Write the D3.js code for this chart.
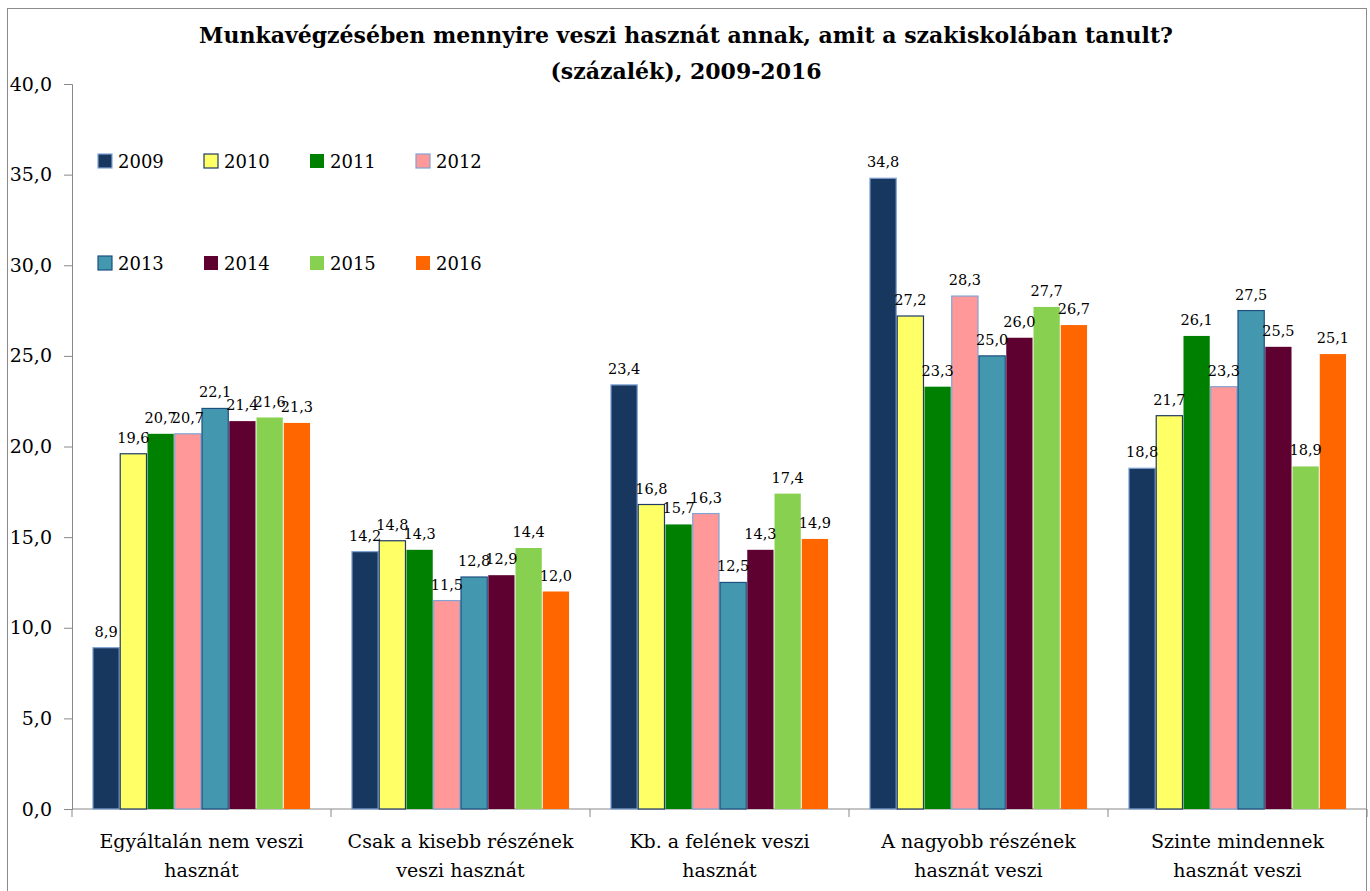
<!DOCTYPE html>
<html>
<head>
<meta charset="utf-8">
<script src="https://cdn.jsdelivr.net/npm/d3@7"></script>
<style>
  body { margin: 0; background: #fff; }
</style>
</head>
<body>
<div id="chart"></div>
<script>
const width = 1370;
const height = 891;
const serif = "'DejaVu Serif', 'Liberation Serif', serif";

// Data
const categories = [
    ["Egyáltalán nem veszi", "hasznát"],
    ["Csak a kisebb részének", "veszi hasznát"],
    ["Kb. a felének veszi", "hasznát"],
    ["A nagyobb részének", "hasznát veszi"],
    ["Szinte mindennek", "hasznát veszi"]
];
const years = ["2009", "2010", "2011", "2012", "2013", "2014", "2015", "2016"];
const values = [
    [8.9, 19.6, 20.7, 20.7, 22.1, 21.4, 21.6, 21.3],
    [14.2, 14.8, 14.3, 11.5, 12.8, 12.9, 14.4, 12.0],
    [23.4, 16.8, 15.7, 16.3, 12.5, 14.3, 17.4, 14.9],
    [34.8, 27.2, 23.3, 28.3, 25.0, 26.0, 27.7, 26.7],
    [18.8, 21.7, 26.1, 23.3, 27.5, 25.5, 18.9, 25.1]
];
const yTicks = [0, 5, 10, 15, 20, 25, 30, 35, 40];
const colors = ["#17375E", "#FFFF66", "#008000", "#FF9999", "#4398B0", "#5E0030", "#88D050", "#FF6600"];
const strokes = ["#7FA3D4", "#1F3A66", "none", "#7FA3D4", "#1F4F80", "none", "none", "none"];

const margin = { left: 72, right: 3, top: 84, bottom: 82 };
const fmt = v => v.toFixed(1).replace(".", ",");

const svg = d3.select("#chart").append("svg")
    .attr("width", width)
    .attr("height", height)
    .style("font-family", serif);

// Outer frame
svg.append("rect")
    .attr("x", 7.5).attr("y", 8.5)
    .attr("width", 1359).attr("height", 900)
    .attr("fill", "none")
    .attr("stroke", "#8c8c8c");

// Title
const title = svg.append("text")
    .attr("text-anchor", "middle")
    .style("font-family", serif)
    .style("font-weight", "bold")
    .style("font-size", "22px");
title.append("tspan").attr("x", 686).attr("y", 43)
    .text("Munkavégzésében mennyire veszi hasznát annak, amit a szakiskolában tanult?");
title.append("tspan").attr("x", 686).attr("y", 79)
    .text("(százalék), 2009-2016");

// Scales
const x0 = d3.scaleBand()
    .domain(d3.range(categories.length))
    .range([margin.left, width - margin.right]);

const gap = x0.bandwidth() * 0.079;
const x1 = d3.scaleBand()
    .domain(years)
    .range([gap, x0.bandwidth() - gap]);

const y = d3.scaleLinear()
    .domain([0, 40])
    .range([height - margin.bottom, margin.top]);

// Y axis
const yAxis = svg.append("g")
    .attr("transform", `translate(${margin.left},0)`)
    .call(d3.axisLeft(y).tickValues(yTicks).tickFormat(fmt).tickSize(8).tickPadding(12));
yAxis.select(".domain").attr("stroke", "#888");
yAxis.selectAll(".tick line").attr("stroke", "#888");
yAxis.selectAll(".tick text")
    .style("font-family", serif)
    .style("font-size", "19px");

// X axis
const xAxis = svg.append("g")
    .attr("transform", `translate(0,${y(0)})`);
xAxis.append("line")
    .attr("x1", margin.left).attr("x2", width - margin.right)
    .attr("stroke", "#888");
xAxis.selectAll(".xt")
    .data(d3.range(categories.length + 1))
    .enter().append("line")
    .attr("x1", i => i < categories.length ? x0(i) : x0(i - 1) + x0.bandwidth())
    .attr("x2", i => i < categories.length ? x0(i) : x0(i - 1) + x0.bandwidth())
    .attr("y2", 8)
    .attr("stroke", "#888");

xAxis.selectAll(".catlabel")
    .data(categories)
    .enter().append("text")
    .attr("text-anchor", "middle")
    .style("font-family", serif)
    .style("font-size", "19px")
    .each(function(d, i) {
        const t = d3.select(this);
        d.forEach((line, j) => {
            t.append("tspan")
                .attr("x", x0(i) + x0.bandwidth() / 2)
                .attr("y", 39 + j * 29)
                .text(line);
        });
    });

// Bars
const groups = svg.selectAll(".group")
    .data(values)
    .enter().append("g")
    .attr("transform", (d, i) => `translate(${x0(i)},0)`);

groups.selectAll("rect")
    .data(d => d)
    .enter().append("rect")
    .attr("x", (d, j) => x1(years[j]) + 0.5)
    .attr("y", d => y(d))
    .attr("width", x1.bandwidth() - 1)
    .attr("height", d => y(0) - y(d))
    .attr("fill", (d, j) => colors[j])
    .attr("stroke", (d, j) => strokes[j])
    .attr("stroke-width", 1.2);

groups.selectAll(".val")
    .data(d => d)
    .enter().append("text")
    .attr("text-anchor", "middle")
    .style("font-family", serif)
    .style("font-size", "14.5px")
    .attr("x", (d, j) => x1(years[j]) + x1.bandwidth() / 2)
    .attr("y", d => y(d) - 11)
    .text(fmt);

// Legend
const legend = svg.selectAll(".legend")
    .data(years)
    .enter().append("g")
    .attr("transform", (d, i) => `translate(${98 + (i % 4) * 106},${i < 4 ? 154 : 256})`);

legend.append("rect")
    .attr("width", 14).attr("height", 14)
    .attr("fill", (d, i) => colors[i])
    .attr("stroke", (d, i) => strokes[i])
    .attr("stroke-width", 1.2);

legend.append("text")
    .attr("x", 20).attr("y", 14)
    .style("font-family", serif)
    .style("font-size", "18px")
    .text(d => d);
</script>
</body>
</html>
